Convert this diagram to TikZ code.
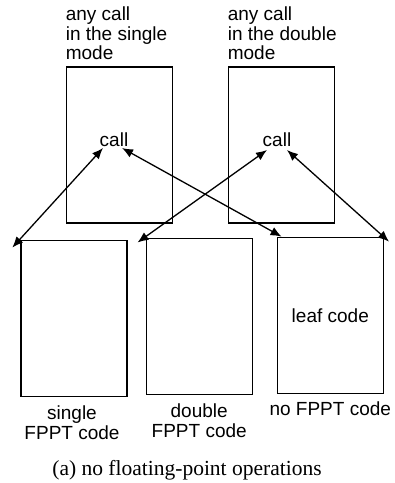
\documentclass[tikz,border=0pt]{standalone}
\usepackage{fontspec}
\setmainfont{Liberation Serif}
\setsansfont{Liberation Sans}
\usepackage{tikz}
\usetikzlibrary{arrows.meta,positioning}

\begin{document}
\begin{tikzpicture}[x=1pt,y=-1pt,
    box/.style={draw, line width=1.4pt, minimum width=106pt, minimum height=156pt, inner sep=0pt},
    lbl/.style={font=\sffamily\fontsize{19}{19.5}\selectfont, inner sep=0pt},
    link/.style={{Latex[length=11pt,width=9pt]}-{Latex[length=11pt,width=9pt]}, line width=1.3pt}]
    \useasboundingbox (0,0) rectangle (395,483);

    % callers in the two modes
    \node[box] (top1) at (119.3,145) {};
    \node[box] (top2) at (281.3,145) {};
    \node[lbl, anchor=base] (call1) at (114,146) {call};
    \node[lbl, anchor=base] (call2) at (277,146) {call};
    \node[lbl, align=left, above=6pt of top1.north west, anchor=south west] (mode1) {any call\\in the single\\mode};
    \node[lbl, align=left, above=6pt of top2.north west, anchor=south west] (mode2) {any call\\in the double\\mode};

    % callees
    \node[box] (single) at (74,318.3) {};
    \node[box] (double) at (199.2,316.2) {};
    \node[box, lbl] (none) at (330.3,315.3) {leaf code};
    \node[lbl, align=center, below=9pt of single.south, xshift=-2pt] (lsingle) {single\\FPPT code};
    \node[lbl, align=center, below=9pt of double.south] (ldouble) {double\\FPPT code};
    \node[lbl, below=8pt of none.south] (lnone) {no FPPT code};

    % calls both ways
    \draw[link] ([shift={(-8,8)}]single.north west) -- ([shift={(-11,2)}]call1.base);
    \draw[link] ([shift={(8,2)}]call1.base) -- ([shift={(5,0)}]none.north west);
    \draw[link] ([shift={(-8,5)}]double.north west) -- ([shift={(-10,4)}]call2.base);
    \draw[link] ([shift={(10,4)}]call2.base) -- ([shift={(5,5)}]none.north east);

    \node[font=\fontsize{21.5}{24}\selectfont, anchor=base] (caption) at (187,475) {(a) no floating-point operations};
\end{tikzpicture}
\end{document}
